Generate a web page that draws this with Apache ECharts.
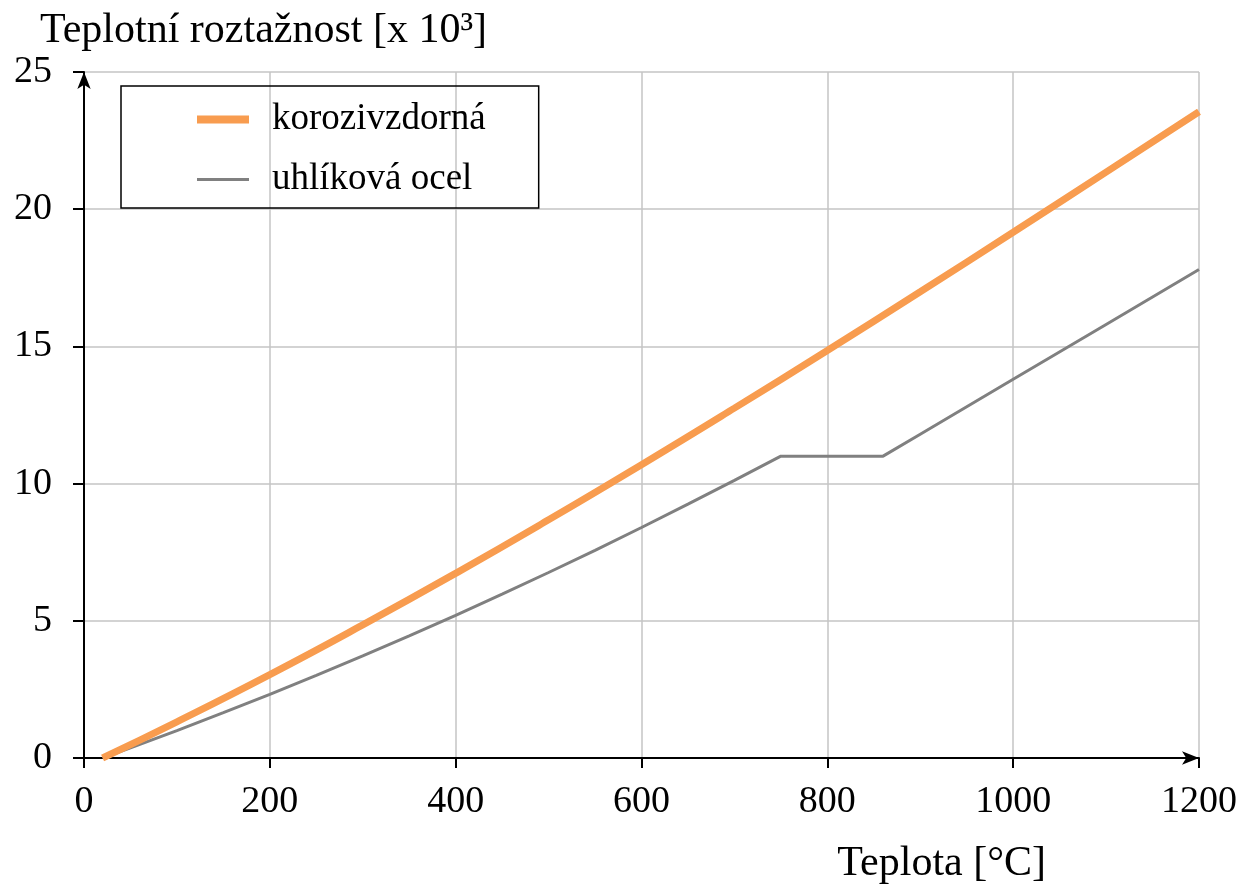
<!DOCTYPE html>
<html>
<head>
<meta charset="utf-8">
<script src="https://cdn.jsdelivr.net/npm/echarts@6/dist/echarts.min.js"></script>
<style>
  html, body { margin: 0; padding: 0; background: #fff; }
  #chart { width: 1240px; height: 885px; }
</style>
</head>
<body>
<div id="chart"></div>
<script>
var seriesNames = ['korozivzdorná', 'uhlíková ocel'];

// korozivzdorná ocel
var stainlessT = [20, 100, 200, 300, 400, 500, 600, 700, 800, 900, 1000, 1100, 1200];
var stainlessVal = [0, 1.32, 3.04, 4.85, 6.73, 8.68, 10.69, 12.75, 14.85, 16.99, 19.16, 21.35, 23.55];

// uhlíková ocel
var carbonT = [20, 50, 100, 150, 200, 250, 300, 350, 400, 450, 500, 550, 600, 650, 700, 750, 860, 900, 1000, 1100, 1200];
var carbonVal = [0, 0.37, 1.0, 1.65, 2.32, 3.01, 3.72, 4.45, 5.2, 5.97, 6.76, 7.57, 8.4, 9.25, 10.12, 11.0, 11.0, 11.8, 13.8, 15.8, 17.8];

var FONT = '"Liberation Serif", "DejaVu Serif", serif';

// legend keys: a bar of given thickness inside a 52x14 box
var thickKey = 'path://M0,0L0.01,0M0,3H52V11H0ZM0,14L0.01,14';
var thinKey = 'path://M0,0L0.01,0M0,5.5H52V8.5H0ZM0,14L0.01,14';

function pairs(xs, ys) {
    var out = [];
    for (var i = 0; i < xs.length; i++) {
        out.push([xs[i], ys[i]]);
    }
    return out;
}

function plain(v) {
    return String(v);
}

var dom = document.getElementById('chart');
var myChart = echarts.init(dom);

var option = {
    backgroundColor: '#fff',
    animation: false,
    textStyle: { fontFamily: FONT },
    grid: {
        left: 84,
        right: 41,
        top: 72,
        bottom: 127,
        containLabel: false,
        outerBoundsMode: 'none'
    },
    legend: {
        data: [
            { name: seriesNames[0], icon: thickKey },
            { name: seriesNames[1], icon: thinKey }
        ],
        orient: 'vertical',
        left: 121,
        top: 86,
        padding: [15, 53, 10, 76],
        itemWidth: 52,
        itemHeight: 14,
        itemGap: 23,
        borderColor: '#000',
        borderWidth: 1.5,
        textStyle: {
            fontFamily: FONT,
            fontSize: 37,
            lineHeight: 32,
            color: '#000',
            padding: [0, 0, 0, 18]
        }
    },
    xAxis: {
        type: 'value',
        min: 0,
        max: 1200,
        interval: 200,
        name: 'Teplota [°C]',
        nameLocation: 'end',
        nameGap: -153,
        nameTextStyle: {
            fontFamily: FONT,
            fontSize: 42,
            color: '#000',
            align: 'right',
            verticalAlign: 'top',
            padding: [85, 0, 0, 0]
        },
        axisLine: {
            lineStyle: { color: '#000', width: 2 },
            symbol: ['none', 'arrow'],
            symbolSize: [10, 17]
        },
        axisTick: {
            show: true,
            length: 10,
            lineStyle: { color: '#000', width: 2 }
        },
        axisLabel: {
            fontFamily: FONT,
            fontSize: 38,
            color: '#000',
            margin: 25,
            formatter: plain
        },
        splitLine: {
            show: true,
            lineStyle: { color: '#c4c4c4', width: 1.5 }
        }
    },
    yAxis: {
        type: 'value',
        min: 0,
        max: 25,
        interval: 5,
        name: 'Teplotní roztažnost [x 10³]',
        nameLocation: 'end',
        nameGap: 20,
        nameTextStyle: {
            fontFamily: FONT,
            fontSize: 42,
            color: '#000',
            align: 'left',
            padding: [0, 0, 0, -44]
        },
        axisLine: {
            lineStyle: { color: '#000', width: 2 },
            symbol: ['none', 'arrow'],
            symbolSize: [10, 17]
        },
        axisTick: {
            show: true,
            length: 11,
            lineStyle: { color: '#000', width: 2 }
        },
        axisLabel: {
            fontFamily: FONT,
            fontSize: 38,
            color: '#000',
            margin: 32,
            formatter: plain
        },
        splitLine: {
            show: true,
            lineStyle: { color: '#c4c4c4', width: 1.5 }
        }
    },
    series: [{
        name: seriesNames[0],
        type: 'line',
        smooth: true,
        symbol: 'none',
        color: '#f89c4f',
        lineStyle: { color: '#f89c4f', width: 7 },
        data: pairs(stainlessT, stainlessVal),
        z: 3
    }, {
        name: seriesNames[1],
        type: 'line',
        symbol: 'none',
        color: '#808080',
        lineStyle: { color: '#808080', width: 3 },
        data: pairs(carbonT, carbonVal),
        z: 2
    }]
};

myChart.setOption(option, true);
window.onresize = function() {
    myChart.resize();
};
</script>
</body>
</html>
